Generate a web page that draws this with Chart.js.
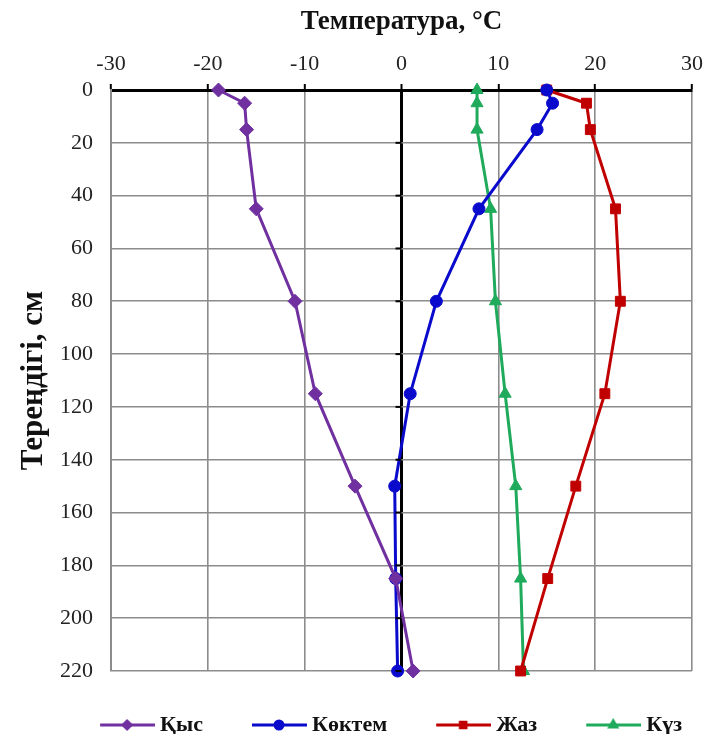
<!DOCTYPE html>
<html>
<head>
<meta charset="utf-8">
<script src="https://cdn.jsdelivr.net/npm/chart.js@4/dist/chart.umd.min.js"></script>
<style>
  html, body { margin: 0; padding: 0; background: #fff; }
  #wrap { width: 710px; height: 734px; }
</style>
</head>
<body>
<div id="wrap"><canvas id="chart"></canvas></div>
<script>
// depth of each measurement, cm
const depths = [0, 5, 15, 45, 80, 115, 150, 185, 220];

// temperature, °C, per season
const winter = [-18.9, -16.2, -16.0, -15.0, -11.0, -8.9, -4.8, -0.6, 1.2];
const spring = [15.0, 15.6, 14.0, 8.0, 3.6, 0.9, -0.7, -0.6, -0.4];
const summer = [15.0, 19.1, 19.5, 22.1, 22.6, 21.0, 18.0, 15.1, 12.3];
const autumn = [7.8, 7.8, 7.8, 9.2, 9.7, 10.7, 11.8, 12.3, 12.6];

const seasonNames = ["Қыс", "Көктем", "Жаз", "Күз"];
const seasonColors = ["#7030A0", "#0A0ACC", "#C00000", "#1FAA5C"];
const seasonMarkers = ["rectRot", "circle", "rect", "triangle"];
const seasonValues = [winter, spring, summer, autumn];

const serif = "'Liberation Serif', 'Times New Roman', serif";

// line + marker picture for the legend; blank on the left gives the gap between items
function legendSample(color, marker) {
    const c = document.createElement("canvas");
    c.width = 100;
    c.height = 14;
    const g = c.getContext("2d");
    g.strokeStyle = color;
    g.fillStyle = color;
    g.lineWidth = 3;
    g.beginPath();
    g.moveTo(45, 7);
    g.lineTo(100, 7);
    g.stroke();
    Chart.helpers.drawPoint(g, { pointStyle: marker, radius: 4, borderWidth: 1 }, 72, 7);
    g.fill();
    return c;
}

// short black ticks on the zero line, like the original
const zeroTicks = {
    id: "zeroTicks",
    afterDatasetsDraw(chart) {
        const { ctx, scales } = chart;
        const x0 = scales.x.getPixelForValue(0);
        ctx.save();
        ctx.strokeStyle = "#000";
        ctx.lineWidth = 2;
        scales.y.ticks.forEach((t) => {
            if (t.value === 0) return;
            const y = scales.y.getPixelForValue(t.value);
            ctx.beginPath();
            ctx.moveTo(x0 - 6, y);
            ctx.lineTo(x0, y);
            ctx.stroke();
        });
        ctx.restore();
    }
};

const datasets = seasonNames.map((name, i) => ({
    label: name,
    data: depths.map((d, k) => ({ x: seasonValues[i][k], y: d })),
    borderColor: seasonColors[i],
    backgroundColor: seasonColors[i],
    borderWidth: 3,
    pointStyle: seasonMarkers[i],
    pointRadius: i === 1 ? 6 : 7,
    pointHoverRadius: 7,
    pointBorderWidth: 1,
    showLine: true,
    fill: false,
    tension: 0,
    clip: false
}));

new Chart(document.getElementById("chart"), {
    type: "scatter",
    data: { datasets },
    plugins: [zeroTicks],
    options: {
        responsive: true,
        maintainAspectRatio: false,
        animation: false,
        layout: { padding: { left: 15, right: 18, top: 6, bottom: 0 } },
        scales: {
            x: {
                type: "linear",
                position: "top",
                min: -30,
                max: 30,
                afterFit: (scale) => { scale.height = 84; },
                ticks: {
                    stepSize: 10,
                    color: "#222",
                    font: { family: serif, size: 22 },
                    padding: 7
                },
                border: { display: true, color: "#000", width: 3 },
                grid: {
                    color: (c) => (c.tick && c.tick.value === 0 ? "#000" : "#8c8c8c"),
                    lineWidth: (c) => (c.tick && c.tick.value === 0 ? 3 : 1.6),
                    tickColor: "#000",
                    tickLength: 6,
                    tickWidth: 2
                },
                title: {
                    display: true,
                    text: "Температура, °C",
                    color: "#111",
                    font: { family: serif, size: 27, weight: "bold" },
                    padding: { top: 0, bottom: 12 }
                }
            },
            y: {
                type: "linear",
                reverse: true,
                min: 0,
                max: 220,
                afterFit: (scale) => { scale.width = 96; },
                ticks: {
                    stepSize: 20,
                    color: "#222",
                    font: { family: serif, size: 22 },
                    padding: 18
                },
                border: { display: true, color: "#8c8c8c", width: 2 },
                grid: {
                    color: (c) => (c.tick && c.tick.value === 0 ? "#000" : "#8c8c8c"),
                    lineWidth: (c) => (c.tick && c.tick.value === 0 ? 3 : 1.6),
                    drawTicks: false
                },
                title: {
                    display: true,
                    text: "Тереңдігі, см",
                    color: "#111",
                    font: { family: serif, size: 31, weight: "bold" },
                    padding: { top: 0, bottom: 4 }
                }
            }
        },
        plugins: {
            legend: {
                position: "bottom",
                align: "end",
                maxHeight: 63,
                title: { display: true, text: "", font: { size: 10 }, padding: { top: 0, bottom: 21 } },
                labels: {
                    usePointStyle: true,
                    pointStyleWidth: 88,
                    padding: 10,
                    color: "#111",
                    font: { family: serif, size: 22, weight: "bold" },
                    generateLabels: (chart) => chart.data.datasets.map((ds, i) => ({
                        text: ds.label,
                        pointStyle: legendSample(seasonColors[i], seasonMarkers[i]),
                        fillStyle: seasonColors[i],
                        strokeStyle: seasonColors[i],
                        lineWidth: 0,
                        hidden: false,
                        datasetIndex: i,
                        fontColor: "#111"
                    }))
                }
            },
            tooltip: { enabled: false }
        }
    }
});
</script>
</body>
</html>
